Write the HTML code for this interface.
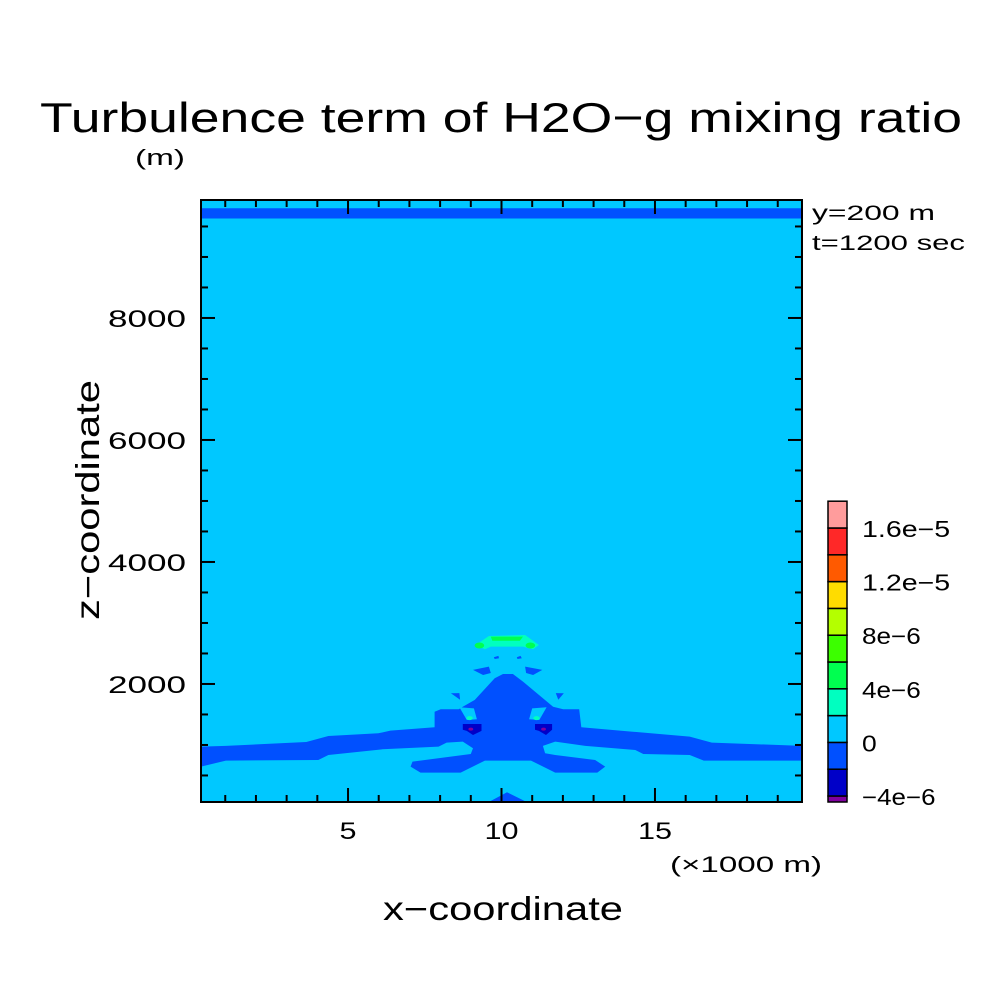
<!DOCTYPE html>
<html><head><meta charset="utf-8">
<style>
html,body{margin:0;padding:0;background:#fff;}
svg{display:block;font-family:"Liberation Sans",sans-serif;}
</style></head>
<body>
<svg id="chart" width="1004" height="1004" viewBox="0 0 1004 1004">
<rect width="1004" height="1004" fill="#fff"/>
<text x="40" y="132" font-size="42" textLength="922" lengthAdjust="spacingAndGlyphs">Turbulence term of H2O−g mixing ratio</text>
<text x="135" y="165" font-size="22" textLength="50" lengthAdjust="spacingAndGlyphs">(m)</text>
<text transform="translate(99,620) rotate(-90)" font-size="33" textLength="240" lengthAdjust="spacingAndGlyphs">z−coordinate</text>
<text x="383" y="920" font-size="33" textLength="240" lengthAdjust="spacingAndGlyphs">x−coordinate</text>
<text x="670" y="872" font-size="22" textLength="152" lengthAdjust="spacingAndGlyphs">(×1000 m)</text>
<text x="812" y="220" font-size="21" textLength="123" lengthAdjust="spacingAndGlyphs">y=200 m</text>
<text x="812" y="250" font-size="21" textLength="153" lengthAdjust="spacingAndGlyphs">t=1200 sec</text>
<defs><clipPath id="plotclip"><rect x="201" y="200" width="601" height="602"/></clipPath></defs>
<g id="field" clip-path="url(#plotclip)"></g>
<g id="axes"></g>
<g id="cbar"></g>
</svg>
<script>
// axis ranges (data units: x in km, z in m)
const xDomain = [0.21, 19.79];
const zDomain = [65, 9934];
const xTicks = [5, 10, 15];
const xTickLabels = ["5", "10", "15"];
const zTicks = [2000, 4000, 6000, 8000];
const zTickLabels = ["2000", "4000", "6000", "8000"];
// colorbar levels
const levelColors = ["#8000a0","#0000c8","#0050ff","#00c8ff","#00ffc0","#00ff50","#3cff00","#b4ff00","#ffdc00","#ff5a00","#ff2828","#ff9c9c"];
const levelLabels = ["−4e−6","0","4e−6","8e−6","1.2e−5","1.6e−5"];
// contour polygons [x km, z m], by level index
const bgLevel = 3;
const topCyan = [[0.21,9934],[19.79,9934],[19.79,9800],[0.21,9800]];
const topBlue = [[0.21,9800],[19.79,9800],[19.79,9630],[0.21,9630]];
const mainBlue = [[0.21,973],[1.02,984],[3.64,1049],[4.36,1147],[5.99,1191],[6.38,1235],[7.82,1290],[7.82,1546],[8.02,1585],[8.61,1585],[8.74,1628],[9.13,1738],[9.78,2093],[10.05,2164],[10.37,2164],[10.70,2038],[11.68,1628],[12.01,1585],[12.53,1585],[12.60,1290],[14.23,1219],[16.13,1137],[16.85,1038],[19.79,984],[19.79,743],[16.59,743],[16.13,836],[14.62,852],[14.36,918],[12.73,984],[11.75,1055],[11.35,984],[11.42,863],[11.75,836],[13.05,754],[13.38,645],[13.12,547],[11.75,547],[10.96,743],[9.46,743],[8.67,547],[7.36,547],[7.04,645],[7.10,727],[9.0,852],[9.07,945],[8.74,1055],[8.21,1038],[7.95,973],[6.12,929],[4.36,836],[4.03,754],[1.02,743],[0.21,645]];
const cyanHoles = [[[8.63,1617],[9.10,1600],[9.20,1420],[8.87,1410]],[[11.47,1617],[11.00,1600],[10.90,1420],[11.23,1410]]];
const aquaDots = [[8.96,1440],[11.14,1440]];
const navyBoxes = [[[8.74,1344],[9.35,1344],[9.35,1230],[9.07,1164],[8.87,1230],[8.74,1250]],[[11.09,1344],[11.65,1344],[11.65,1250],[11.45,1164],[11.22,1230],[11.09,1250]]];
const purpleDots = [[9.0,1260],[11.37,1260]];
const smallBlue = [[[9.07,2230],[9.59,2284],[9.65,2180],[9.40,2147]],[[10.77,2284],[11.33,2230],[11.03,2147],[10.80,2180]],[[9.75,2437],[9.90,2460],[9.92,2420],[9.78,2410]],[[10.50,2437],[10.62,2460],[10.66,2420],[10.52,2410]],[[8.35,1847],[8.63,1850],[8.65,1740]],[[11.77,1850],[12.03,1847],[11.85,1740]],[[9.55,55],[10.18,224],[10.86,55]]];
const aquaCap = [[9.16,2639],[9.59,2787],[10.77,2803],[11.22,2639],[11.03,2568],[10.70,2612],[9.65,2612],[9.46,2568]];
const greenCap = [[9.65,2776],[10.70,2776],[10.60,2710],[9.70,2710]];
const greenDots = [[9.28,2630],[10.94,2630]];

const PX0=201, PX1=802, PY0=802, PY1=200;
function sx(v){return PX0+(v-xDomain[0])/(xDomain[1]-xDomain[0])*(PX1-PX0);}
function sy(v){return PY0-(v-zDomain[0])/(zDomain[1]-zDomain[0])*(PY0-PY1);}
const NS="http://www.w3.org/2000/svg";
function mk(tag,attrs,parent){const e=document.createElementNS(NS,tag);for(const k in attrs)e.setAttribute(k,attrs[k]);parent.appendChild(e);return e;}
function pts(p){return p.map(q=>sx(q[0]).toFixed(1)+","+sy(q[1]).toFixed(1)).join(" ");}
const field=document.getElementById("field");
function poly(p,lvl,name){const e=mk("polygon",{points:pts(p),fill:levelColors[lvl]},field);

}
function dot(c,r,lvl,name){const e=mk("ellipse",{cx:sx(c[0]),cy:sy(c[1]),rx:r*1.6,ry:r,fill:levelColors[lvl]},field);

}
const bg=mk("rect",{x:PX0,y:PY1,width:PX1-PX0,height:PY0-PY1,fill:levelColors[bgLevel]},field);


poly(topCyan,3,"top-cyan-band");
poly(topBlue,2,"top-blue-band");
poly(mainBlue,2,"negative-region");
cyanHoles.forEach(p=>poly(p,3,"cyan-notch"));
aquaDots.forEach(c=>dot(c,2,4,"aqua-spot"));
navyBoxes.forEach(p=>poly(p,1,"strong-negative-cell"));
purpleDots.forEach(c=>dot(c,1.5,0,"min-spot"));
smallBlue.forEach(p=>poly(p,2,"small-negative-blob"));
poly(aquaCap,4,"positive-cap");
poly(greenCap,5,"positive-cap-core");
greenDots.forEach(c=>dot(c,3,5,"positive-spot"));

const axes=document.getElementById("axes");
const frame=mk("rect",{x:PX0,y:PY1,width:PX1-PX0,height:PY0-PY1,fill:"none",stroke:"#000","stroke-width":2},axes);


for(let v=1;v<=19;v++){const X=sx(v);const L=(v%5===0)?14:7;
 mk("line",{x1:X,y1:PY0,x2:X,y2:PY0-L,stroke:"#000","stroke-width":2},axes);
 mk("line",{x1:X,y1:PY1,x2:X,y2:PY1+L,stroke:"#000","stroke-width":2},axes);}
for(let v=500;v<=9500;v+=500){const Y=sy(v);const L=(v%2000===0)?14:7;
 mk("line",{x1:PX0,y1:Y,x2:PX0+L,y2:Y,stroke:"#000","stroke-width":2},axes);
 mk("line",{x1:PX1,y1:Y,x2:PX1-L,y2:Y,stroke:"#000","stroke-width":2},axes);}
xTicks.forEach((v,i)=>{const t=mk("text",{x:sx(v),y:839,"font-size":24,"text-anchor":"middle",textLength:17*xTickLabels[i].length,lengthAdjust:"spacingAndGlyphs"},axes);t.textContent=xTickLabels[i];

});
zTicks.forEach((v,i)=>{const t=mk("text",{x:108,y:sy(v)+9,"font-size":24,textLength:78,lengthAdjust:"spacingAndGlyphs"},axes);t.textContent=zTickLabels[i];

});

const cb=document.getElementById("cbar");
const CB_X=828, CB_W=19, CB_BOT=802, SEG=26.8, FIRST=6;
for(let i=0;i<levelColors.length;i++){
 const h=i===0?FIRST:SEG; const bot=i===0?CB_BOT:CB_BOT-FIRST-(i-1)*SEG;
 const r=mk("rect",{x:CB_X,y:bot-h,width:CB_W,height:h,fill:levelColors[i],stroke:"#000","stroke-width":1.5},cb);
 
 }
levelLabels.forEach((s,i)=>{const y=CB_BOT-FIRST-2*i*SEG;const t=mk("text",{x:862,y:y+9,"font-size":23,textLength:s.length*14.7,lengthAdjust:"spacingAndGlyphs"},cb);t.textContent=s;

});
</script>
</body></html>
